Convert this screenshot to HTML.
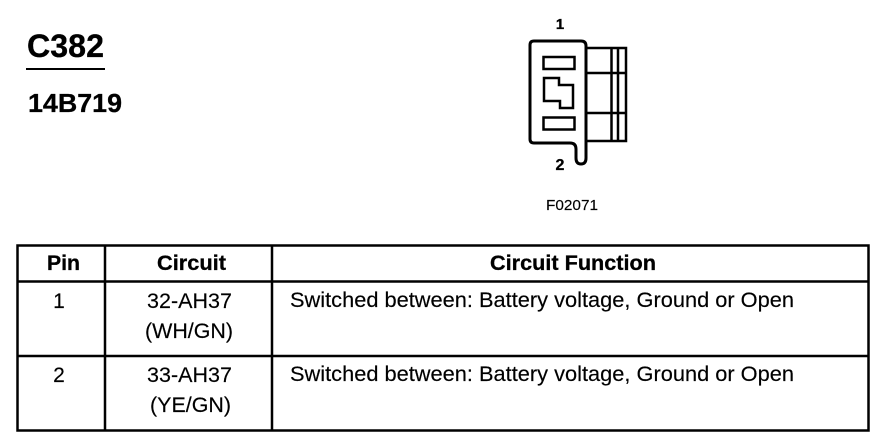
<!DOCTYPE html>
<html><head><meta charset="utf-8"><style>
html,body{margin:0;padding:0;background:#fff}
svg{display:block}
text{font-family:"Liberation Sans",Arial,sans-serif;fill:#000}
.b{font-weight:bold;stroke:#000;stroke-width:.3}
.r{stroke:#000;stroke-width:.15}
</style></head><body>
<svg width="896" height="448" viewBox="0 0 896 448" xmlns="http://www.w3.org/2000/svg">
<rect width="896" height="448" fill="#fff"/>
<text x="27" y="57" class="b" font-size="32" textLength="77" lengthAdjust="spacingAndGlyphs">C382</text>
<rect x="26" y="68" width="79" height="2" fill="#000"/>
<text x="28" y="112" class="b" font-size="26" textLength="94" lengthAdjust="spacingAndGlyphs">14B719</text>

<g fill="none" stroke="#000">
<path d="M586 48H626V141H586" stroke-width="2.5"/>
<path d="M586 73H626M586 113H626" stroke-width="2.5"/>
<path d="M611.5 48V141M618 48V141" stroke-width="2.5"/>
<path d="M534 41H581Q586 41 586 46V158Q586 164 581 164Q576 164 576 158V149Q576 143 570 143H534Q530 143 530 139V45Q530 41 534 41Z" stroke-width="3" fill="#fff"/>
<rect x="543.5" y="57" width="31" height="12" stroke-width="2.5"/>
<rect x="543.5" y="117.500" width="31" height="12" stroke-width="2.5"/>
<path d="M544 78H559V85H573V108H560V101H544Z" stroke-width="2.5"/>
</g>
<text x="560" y="29" class="b" font-size="15" text-anchor="middle">1</text>
<text x="560" y="170" class="b" font-size="16" text-anchor="middle">2</text>
<text x="546" y="210" font-size="15" class="r" textLength="52" lengthAdjust="spacingAndGlyphs">F02071</text>

<g fill="none" stroke="#000" stroke-width="2.500">
<rect x="17.500" y="245.500" width="851" height="185"/>
<path d="M105 245V430M272 245V430"/>
<path d="M17 281.500H868M17 356H868"/>
</g>
<g font-size="21" class="r">
<text x="47" y="270" class="b" textLength="33" lengthAdjust="spacingAndGlyphs">Pin</text>
<text x="157" y="270" class="b" textLength="69" lengthAdjust="spacingAndGlyphs">Circuit</text>
<text x="490" y="270" class="b" textLength="166" lengthAdjust="spacingAndGlyphs">Circuit Function</text>
<text x="59" y="308" text-anchor="middle">1</text>
<text x="147" y="308" textLength="85" lengthAdjust="spacingAndGlyphs">32-AH37</text>
<text x="145" y="338" textLength="88" lengthAdjust="spacingAndGlyphs">(WH/GN)</text>
<text x="290" y="307" textLength="504" lengthAdjust="spacingAndGlyphs">Switched between: Battery voltage, Ground or Open</text>
<text x="59" y="382" text-anchor="middle">2</text>
<text x="147" y="382" textLength="85" lengthAdjust="spacingAndGlyphs">33-AH37</text>
<text x="150" y="412" textLength="81" lengthAdjust="spacingAndGlyphs">(YE/GN)</text>
<text x="290" y="381" textLength="504" lengthAdjust="spacingAndGlyphs">Switched between: Battery voltage, Ground or Open</text>
</g>
</svg>
</body></html>
